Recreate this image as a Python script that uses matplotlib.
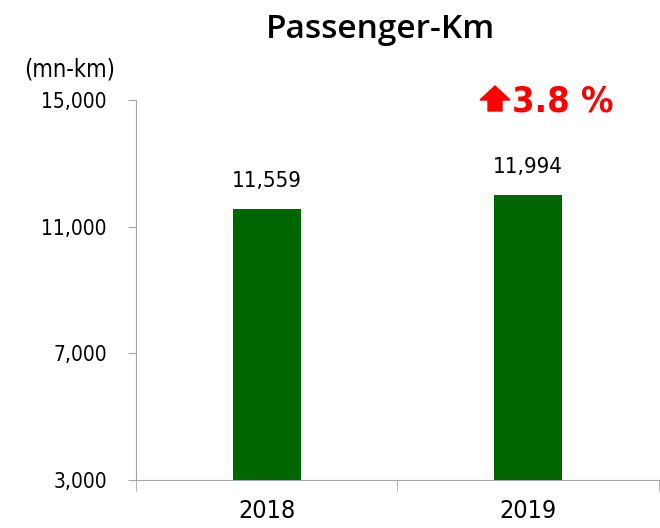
import matplotlib
matplotlib.use("Agg")
import matplotlib.pyplot as plt
from matplotlib.patches import Polygon

years = ["2018", "2019"]
passenger_km = [11559, 11994]
yticks = [3000, 7000, 11000, 15000]
growth_label = "3.8 %"

plt.rcParams["font.family"] = "DejaVu Sans"
plt.rcParams["font.stretch"] = "condensed"

fig = plt.figure(figsize=(6.6, 5.28), dpi=100)
ax = fig.add_axes([0.206, 0.091, 0.792, 0.72])

x = [0, 1]
ax.bar(x, passenger_km, width=0.26, color="#006600", zorder=2)
ax.set_xlim(-0.5, 1.5)
ax.set_ylim(3000, 15000)

ax.set_yticks(yticks)
ax.set_yticklabels([f"{v:,}" for v in yticks], fontsize=15)
ax.set_xticks(x)
ax.set_xticklabels(years, fontsize=18)
ax.set_xticks([-0.5, 0.5, 1.5], minor=True)
ax.tick_params(axis="x", which="major", length=0, pad=14)
ax.tick_params(axis="x", which="minor", length=8, color="#a6a6a6")
ax.tick_params(axis="y", length=6, color="#a6a6a6", pad=15)

for side in ["top", "right"]:
    ax.spines[side].set_visible(False)
for side in ["left", "bottom"]:
    ax.spines[side].set_color("#a6a6a6")

for xi, v in zip(x, passenger_km):
    ax.annotate(f"{v:,}", (xi, v), xytext=(0, 13), textcoords="offset points",
                ha="center", va="bottom", fontsize=16)

fig.text(0.576, 0.944, "Passenger-Km", ha="center", va="center",
         fontsize=24, family="Open Sans", weight="semibold", stretch="normal")
fig.text(0.106, 0.869, "(mn-km)", ha="center", va="center", fontsize=17)

fig.text(0.775, 0.808, growth_label, ha="left", va="center", fontsize=26,
         weight="bold", color="red")

# up arrow in front of the growth figure (pixel outline -> figure fraction)
W, H = 660, 528
arrow_px = [(480, 100), (495, 86), (510, 100), (502, 100), (502, 111),
            (488, 111), (488, 100)]
arrow = Polygon([(px / W, 1 - py / H) for px, py in arrow_px],
                closed=True, transform=fig.transFigure, color="red")
fig.patches.append(arrow)

fig.savefig("out.png", dpi=100)
